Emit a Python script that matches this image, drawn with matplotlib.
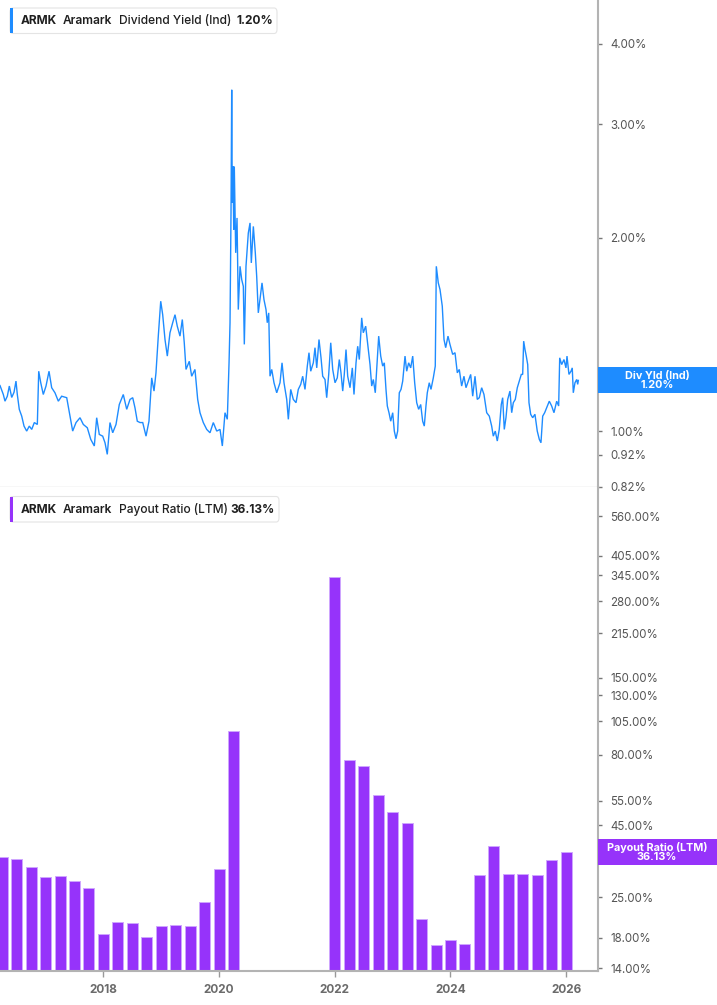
import matplotlib
matplotlib.use('Agg')
import matplotlib.pyplot as plt
from matplotlib.patches import Rectangle, FancyBboxPatch
from matplotlib.ticker import FixedLocator, FixedFormatter, NullLocator

plt.rcParams['font.family'] = ['Inter', 'DejaVu Sans']

# ---------------- data ----------------
yield_dates = [
    2016.213, 2016.270, 2016.299, 2016.339, 2016.374, 2016.415, 2016.455, 2016.489, 2016.512, 2016.546,
    2016.588, 2016.628, 2016.674, 2016.719, 2016.761, 2016.806, 2016.858, 2016.882, 2016.917, 2016.961,
    2017.008, 2017.060, 2017.106, 2017.163, 2017.221, 2017.279, 2017.366, 2017.423, 2017.469, 2017.527,
    2017.596, 2017.653, 2017.722, 2017.781, 2017.843, 2017.884, 2017.929, 2017.988, 2018.028, 2018.067,
    2018.114, 2018.161, 2018.218, 2018.275, 2018.344, 2018.403, 2018.460, 2018.507, 2018.546, 2018.586,
    2018.633, 2018.680, 2018.737, 2018.788, 2018.835, 2018.875, 2018.909, 2018.949, 2018.991, 2019.025,
    2019.065, 2019.105, 2019.151, 2019.198, 2019.238, 2019.277, 2019.324, 2019.364, 2019.398, 2019.428,
    2019.485, 2019.526, 2019.583, 2019.630, 2019.670, 2019.727, 2019.786, 2019.843, 2019.900, 2019.959,
    2020.016, 2020.056, 2020.102, 2020.142, 2020.172, 2020.189, 2020.206, 2020.218, 2020.228, 2020.240,
    2020.253, 2020.263, 2020.287, 2020.310, 2020.332, 2020.362, 2020.391, 2020.419, 2020.436, 2020.465,
    2020.505, 2020.535, 2020.557, 2020.592, 2020.626, 2020.650, 2020.678, 2020.707, 2020.742, 2020.776,
    2020.811, 2020.833, 2020.858, 2020.880, 2020.910, 2020.949, 2020.996, 2021.053, 2021.088, 2021.122,
    2021.169, 2021.197, 2021.238, 2021.283, 2021.330, 2021.369, 2021.411, 2021.445, 2021.485, 2021.525,
    2021.554, 2021.584, 2021.629, 2021.658, 2021.688, 2021.727, 2021.762, 2021.791, 2021.831, 2021.860,
    2021.895, 2021.930, 2021.964, 2022.004, 2022.043, 2022.078, 2022.107, 2022.137, 2022.164, 2022.194,
    2022.223, 2022.263, 2022.303, 2022.332, 2022.367, 2022.396, 2022.424, 2022.465, 2022.493, 2022.534,
    2022.569, 2022.609, 2022.638, 2022.666, 2022.700, 2022.735, 2022.759, 2022.794, 2022.828, 2022.856,
    2022.885, 2022.908, 2022.937, 2022.967, 2023.001, 2023.029, 2023.058, 2023.087, 2023.115, 2023.145,
    2023.174, 2023.214, 2023.243, 2023.277, 2023.312, 2023.347, 2023.381, 2023.416, 2023.450, 2023.485,
    2023.519, 2023.547, 2023.576, 2023.599, 2023.633, 2023.663, 2023.703, 2023.737, 2023.755, 2023.789,
    2023.819, 2023.858, 2023.888, 2023.917, 2023.957, 2023.991, 2024.038, 2024.078, 2024.118, 2024.152,
    2024.193, 2024.233, 2024.268, 2024.308, 2024.349, 2024.384, 2024.424, 2024.463, 2024.498, 2024.539,
    2024.579, 2024.626, 2024.671, 2024.712, 2024.740, 2024.774, 2024.809, 2024.843, 2024.878, 2024.902,
    2024.930, 2024.959, 2024.989, 2025.028, 2025.058, 2025.086, 2025.120, 2025.155, 2025.189, 2025.224,
    2025.248, 2025.265, 2025.288, 2025.310, 2025.335, 2025.357, 2025.386, 2025.421, 2025.460, 2025.500,
    2025.535, 2025.564, 2025.594, 2025.628, 2025.663, 2025.708, 2025.749, 2025.789, 2025.836, 2025.870,
    2025.888, 2025.922, 2025.962, 2025.996, 2026.014, 2026.048, 2026.083, 2026.105, 2026.123, 2026.152,
    2026.182, 2026.199, 2026.210,
]

yield_values = [
    1.178, 1.141, 1.114, 1.134, 1.176, 1.129, 1.150, 1.197, 1.141, 1.082,
    1.056, 1.019, 1.001, 1.019, 1.007, 1.032, 1.025, 1.240, 1.190, 1.141,
    1.176, 1.240, 1.169, 1.148, 1.114, 1.134, 1.128, 1.056, 1.001, 1.032,
    1.050, 1.025, 1.013, 0.972, 0.949, 1.050, 0.989, 0.983, 0.960, 0.921,
    1.032, 0.995, 1.025, 1.101, 1.141, 1.082, 1.121, 1.128, 1.088, 1.037,
    1.032, 1.032, 0.983, 1.037, 1.211, 1.155, 1.233, 1.406, 1.593, 1.518,
    1.389, 1.309, 1.423, 1.475, 1.518, 1.457, 1.406, 1.492, 1.373, 1.248,
    1.285, 1.218, 1.248, 1.121, 1.069, 1.032, 1.007, 0.995, 1.032, 1.001,
    1.007, 0.949, 1.069, 1.044, 1.278, 1.475, 2.185, 3.394, 2.264, 2.580,
    2.058, 2.580, 1.894, 2.146, 1.546, 1.805, 1.721, 1.680, 1.365, 1.805,
    2.033, 2.108, 1.827, 2.082, 1.894, 1.741, 1.528, 1.602, 1.701, 1.602,
    1.546, 1.475, 1.528, 1.218, 1.248, 1.190, 1.148, 1.190, 1.278, 1.190,
    1.121, 1.044, 1.162, 1.121, 1.108, 1.162, 1.183, 1.218, 1.162, 1.263,
    1.325, 1.240, 1.278, 1.349, 1.255, 1.389, 1.301, 1.218, 1.204, 1.128,
    1.226, 1.373, 1.248, 1.190, 1.211, 1.293, 1.233, 1.155, 1.226, 1.340,
    1.218, 1.169, 1.255, 1.141, 1.278, 1.356, 1.293, 1.501, 1.423, 1.457,
    1.365, 1.270, 1.176, 1.204, 1.148, 1.293, 1.406, 1.309, 1.263, 1.278,
    1.162, 1.095, 1.069, 1.037, 1.069, 1.001, 0.974, 1.001, 1.148, 1.162,
    1.197, 1.309, 1.240, 1.278, 1.255, 1.309, 1.190, 1.108, 1.082, 1.101,
    1.037, 1.019, 1.095, 1.148, 1.190, 1.162, 1.211, 1.263, 1.805, 1.701,
    1.661, 1.565, 1.389, 1.349, 1.406, 1.365, 1.317, 1.325, 1.233, 1.248,
    1.176, 1.218, 1.169, 1.197, 1.226, 1.134, 1.218, 1.121, 1.128, 1.169,
    1.141, 1.069, 1.056, 1.019, 0.983, 1.001, 0.966, 1.007, 1.101, 1.128,
    1.007, 1.050, 1.121, 1.155, 1.069, 1.108, 1.121, 1.169, 1.197, 1.226,
    1.226, 1.381, 1.340, 1.309, 1.270, 1.108, 1.063, 1.050, 1.063, 1.001,
    0.972, 0.960, 1.056, 1.069, 1.088, 1.114, 1.095, 1.069, 1.114, 1.095,
    1.301, 1.270, 1.293, 1.255, 1.309, 1.226, 1.240, 1.255, 1.148, 1.190,
    1.204, 1.183, 1.200,
]

payout_dates = [
    2016.25, 2016.50, 2016.75, 2017.00, 2017.25, 2017.50, 2017.75, 2018.00, 2018.25,
    2018.50, 2018.75, 2019.00, 2019.25, 2019.50, 2019.75, 2020.00, 2020.25,
    2022.00, 2022.25, 2022.50, 2022.75, 2023.00, 2023.25, 2023.50, 2023.75, 2024.00,
    2024.25, 2024.50, 2024.75, 2025.00, 2025.25, 2025.50, 2025.75, 2026.00,
]
payout_values = [
    34.6, 34.1, 31.9, 29.4, 29.8, 28.6, 26.9, 18.6, 20.4,
    20.2, 18.1, 19.8, 20.0, 19.8, 24.1, 31.5, 97.0,
    339.6, 76.5, 72.9, 57.8, 50.0, 46.0, 20.9, 16.9, 17.6,
    17.1, 29.9, 37.9, 30.2, 30.3, 29.9, 33.8, 36.13,
]

year_ticks = [2018, 2020, 2022, 2024, 2026]
year_labels = ['2018', '2020', '2022', '2024', '2026']
yield_ticks = [0.82, 0.92, 1.00, 2.00, 3.00, 4.00]
payout_ticks = [14, 18, 25, 35, 45, 55, 80, 105, 130, 150, 215, 280, 345, 405, 560]

last_yield = 1.20
last_payout = 36.13

# ---------------- style ----------------
BLUE = '#1E8CFF'
PURPLE = '#9633FA'
SPINE = '#b3b3b3'
TXT = '#555555'

W, H = 717, 1005
fig = plt.figure(figsize=(W / 100, H / 100), dpi=100)
fig.patch.set_facecolor('white')

def fx(px):
    return px / W

def fy(py):
    return 1 - py / H

x_left, x_right = 2016.2127, 2026.55

ax1 = fig.add_axes([0, fy(487), fx(598), 487 / H])
ax2 = fig.add_axes([0, fy(971), fx(598), (971 - 487) / H])

# top panel
ax1.plot(yield_dates, yield_values, color=BLUE, lw=1.0, solid_joinstyle='miter')
ax1.set_yscale('log')
ax1.set_xlim(x_left, x_right)
ax1.set_ylim(0.8195, 4.68)
ax1.yaxis.set_major_locator(FixedLocator(yield_ticks))
ax1.yaxis.set_major_formatter(FixedFormatter([f'{t:.2f}%' for t in yield_ticks]))
ax1.yaxis.set_minor_locator(NullLocator())
ax1.yaxis.tick_right()
ax1.tick_params(axis='y', which='major', length=3, width=1, color='#777777',
                labelsize=8.3, labelcolor=TXT, pad=6)
ax1.tick_params(axis='x', bottom=False, labelbottom=False)
for s in ['top', 'left']:
    ax1.spines[s].set_visible(False)
ax1.spines['right'].set_color(SPINE)
ax1.spines['right'].set_linewidth(1.5)
ax1.spines['bottom'].set_color('#d9d9d9')
ax1.spines['bottom'].set_linewidth(1.0)

# bottom panel
ax2.bar(payout_dates, payout_values, width=0.19, color=PURPLE,
        edgecolor='#cfa6ff', linewidth=0.7, zorder=2)
ax2.set_yscale('log')
ax2.set_xlim(x_left, x_right)
ax2.set_ylim(13.7, 710)
ax2.yaxis.set_major_locator(FixedLocator(payout_ticks))
ax2.yaxis.set_major_formatter(FixedFormatter([f'{t:.2f}%' for t in payout_ticks]))
ax2.yaxis.set_minor_locator(NullLocator())
ax2.yaxis.tick_right()
ax2.tick_params(axis='y', which='major', length=3, width=1, color='#777777',
                labelsize=8.3, labelcolor=TXT, pad=6)
ax2.xaxis.set_major_locator(FixedLocator(year_ticks))
ax2.xaxis.set_major_formatter(FixedFormatter(year_labels))
ax2.xaxis.set_minor_locator(NullLocator())
ax2.tick_params(axis='x', length=4, width=1, color='#999999', labelsize=8.5,
                labelcolor='#6b6b6b', pad=5)
for lab in ax2.get_xticklabels():
    lab.set_fontweight('bold')
for s in ['top', 'left']:
    ax2.spines[s].set_visible(False)
for s in ['right', 'bottom']:
    ax2.spines[s].set_color(SPINE)
    ax2.spines[s].set_linewidth(1.5)

# ---------------- badges on the right axis ----------------
def badge(ax, val, color, text):
    yd = ax.transData.transform((x_right, val))[1]
    h = 26
    rect = Rectangle((598 / W, (yd - h / 2) / H), (W - 598) / W, h / H,
                     transform=fig.transFigure, facecolor=color, edgecolor='none', zorder=5)
    fig.add_artist(rect)
    fig.text(657 / W, yd / H, text, ha='center', va='center', color='white',
             fontsize=7.8, fontweight='bold', linespacing=0.95, zorder=6)

badge(ax1, last_yield, BLUE, f'Div Yld (Ind)\n{last_yield:.2f}%')
badge(ax2, last_payout, PURPLE, f'Payout Ratio (LTM)\n{last_payout:.2f}%')

# ---------------- legend boxes ----------------
def legend_box(top_px, right_px, color, parts):
    box = FancyBboxPatch((10 / W, fy(top_px + 25.5)), (right_px - 10) / W, 25.5 / H,
                         boxstyle='round,pad=0,rounding_size=0.004',
                         transform=fig.transFigure, facecolor='white',
                         edgecolor='#e4e4e4', linewidth=0.8, zorder=5)
    fig.add_artist(box)
    stripe = Rectangle((10 / W, fy(top_px + 25.5)), 3.2 / W, 25.5 / H,
                       transform=fig.transFigure, facecolor=color, edgecolor='none', zorder=6)
    fig.add_artist(stripe)
    yc = fy(top_px + 13)
    for xpx, txt, wt in parts:
        fig.text(xpx / W, yc, txt, ha='left', va='center', fontsize=8.6,
                 fontweight=wt, color='#1f1f1f', zorder=7)

legend_box(8, 277, BLUE, [(20.5, 'ARMK', 'bold'), (63, 'Aramark', 'semibold'),
                          (119, 'Dividend Yield (Ind)', 'medium'), (236, '1.20%', 'bold')])
legend_box(496.5, 279, PURPLE, [(20.5, 'ARMK', 'bold'), (62.7, 'Aramark', 'semibold'),
                                (119.3, 'Payout Ratio (LTM)', 'medium'), (230, '36.13%', 'bold')])

fig.savefig('out.png', dpi=100, facecolor='white')
